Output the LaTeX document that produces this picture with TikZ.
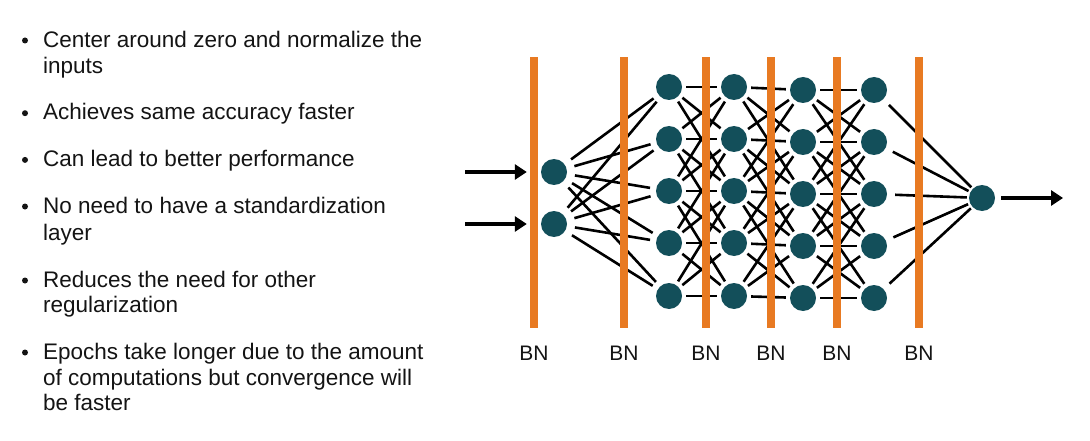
\documentclass[tikz,border=0pt]{standalone}
\usepackage{fontspec}
\setmainfont{Liberation Sans}
\usetikzlibrary{arrows.meta}
\definecolor{bnorange}{RGB}{232,122,34}
\definecolor{neuroncol}{RGB}{19,79,90}
\definecolor{textcol}{RGB}{20,20,20}
\begin{document}
\begin{tikzpicture}[x=1pt,y=-1pt,
  neuron/.style={circle,fill=neuroncol,minimum size=26pt,inner sep=0pt},
  link/.style={line width=2.6pt,black,shorten <=4pt,shorten >=4pt},
  widelink/.style={line width=2.6pt,black,shorten <=8pt,shorten >=6pt},
  flow/.style={line width=4pt,black,-{Triangle[length=12pt,width=15pt]}},
  bnbar/.style={rectangle,fill=bnorange,minimum width=8pt,minimum height=271pt,inner sep=0pt},
  bnlabel/.style={anchor=base,inner sep=0pt,font=\fontsize{21}{21}\selectfont,text=textcol},
  bodytext/.style={anchor=base west,inner sep=0pt,font=\fontsize{22.5}{26}\selectfont,text=textcol},
  dot/.style={fill=textcol}
]
\fill[white] (0,0) rectangle (1090,441);
\useasboundingbox (0,0) rectangle (1090,441);

% ---------- bullet list ----------
\fill[dot] (25,40.5) circle (3);
\node[bodytext] (t1a) at (43,47.3) {Center around zero and normalize the};
\node[bodytext] (t1b) at (43,73.3) {inputs};
\fill[dot] (25,113.2) circle (3);
\node[bodytext] (t2) at (43,120) {Achieves same accuracy faster};
\fill[dot] (25,159.9) circle (3);
\node[bodytext] (t3) at (43,166.7) {Can lead to better performance};
\fill[dot] (25,206.5) circle (3);
\node[bodytext] (t4a) at (43,213.3) {No need to have a standardization};
\node[bodytext] (t4b) at (43,240) {layer};
\fill[dot] (25,280.5) circle (3);
\node[bodytext] (t5a) at (43,287.3) {Reduces the need for other};
\node[bodytext] (t5b) at (43,312.7) {regularization};
\fill[dot] (25,352.5) circle (3);
\node[bodytext] (t6a) at (43,359.3) {Epochs take longer due to the amount};
\node[bodytext] (t6b) at (43,385.7) {of computations but convergence will};
\node[bodytext] (t6c) at (43,410.7) {be faster};

% ---------- neurons ----------
\node[neuron] (x1) at (554,172) {};
\node[neuron] (x2) at (554,224) {};
\foreach \i/\y in {1/87,2/139,3/191,4/243,5/296} {
  \node[neuron] (a\i) at (669,\y) {};
  \node[neuron] (b\i) at (734,\y) {};
}
\foreach \i/\y in {1/90,2/142,3/194,4/246,5/298} {
  \node[neuron] (c\i) at (803,\y) {};
  \node[neuron] (d\i) at (874,\y) {};
}
\node[neuron] (out) at (982,198) {};

% ---------- connections ----------
\foreach \i in {1,2} \foreach \j in {1,...,5} {
  \draw[widelink] (x\i) -- (a\j);
}
\foreach \i in {1,...,5} \foreach \j in {1,...,5} {
  \pgfmathtruncatemacro\gap{abs(\i-\j)}
  \ifnum\gap<3
    \draw[link] (a\i) -- (b\j);
    \draw[link] (b\i) -- (c\j);
    \draw[link] (c\i) -- (d\j);
  \fi
}
\foreach \i in {1,...,5} {
  \draw[widelink,shorten >=2pt] (d\i) -- (out);
}

% ---------- input / output arrows ----------
\coordinate (in1) at (465,172);
\coordinate (in2) at (465,224);
\coordinate (res) at (1063,198);
\draw[flow,shorten >=14pt] (in1) -- (x1);
\draw[flow,shorten >=14pt] (in2) -- (x2);
\draw[flow,shorten <=6pt] (out) -- (res);

% ---------- batch-norm bars ----------
\foreach \k/\x in {1/534,2/624,3/706,4/771,5/837,6/919} {
  \node[bnbar] (bn\k) at (\x,192.5) {};
  \node[bnlabel] (lab\k) at (\x,360.7) {BN};
}
\end{tikzpicture}
\end{document}
